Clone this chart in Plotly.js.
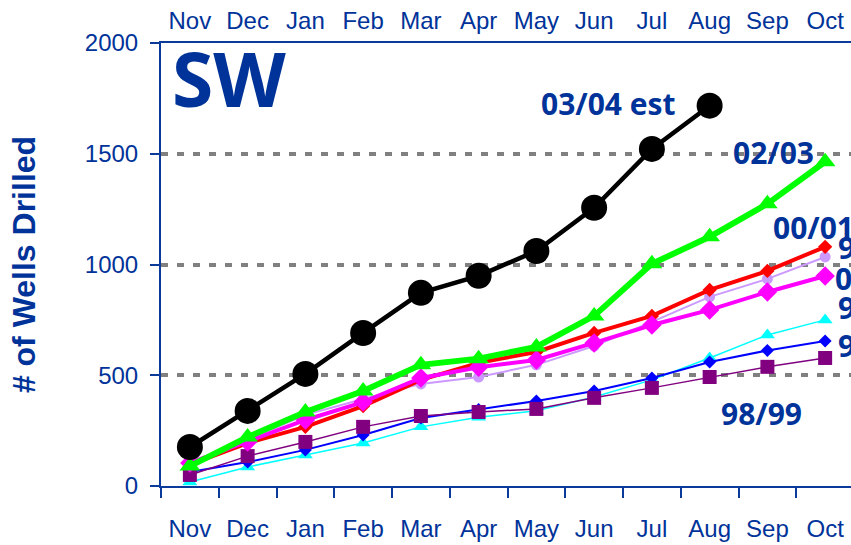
<!DOCTYPE html>
<html>
<head>
<meta charset="utf-8">
<script src="https://cdn.plot.ly/plotly-3.0.1.min.js"></script>
<style>
  html, body { margin: 0; padding: 0; background: #ffffff; overflow: hidden; }
  #chart { width: 854px; height: 545px; }
</style>
</head>
<body>
<div id="chart"></div>
<script>
// ---- data ----
const months = ['Nov','Dec','Jan','Feb','Mar','Apr','May','Jun','Jul','Aug','Sep','Oct'];
const est0304 = [176, 339, 506, 691, 872, 949, 1061, 1256, 1522, 1717];
const s0203 = [90, 221, 334, 429, 547, 575, 628, 768, 1003, 1125, 1274, 1464];
const s0001 = [97, 194, 267, 361, 479, 556, 605, 691, 768, 885, 971, 1080];
const s0102 = [104, 199, 298, 379, 488, 536, 569, 646, 727, 795, 876, 948];
const s9900 = [100, 208, 321, 393, 461, 492, 547, 632, 741, 854, 935, 1034];
const s9798 = [18, 86, 140, 194, 267, 310, 340, 402, 479, 578, 682, 750];
const s9697 = [63, 108, 163, 230, 307, 345, 384, 429, 488, 560, 612, 655];
const s9899 = [50, 135, 199, 267, 316, 334, 348, 398, 443, 492, 538, 578];
const yTicks = [0, 500, 1000, 1500, 2000];

const BLUE = '#0A3A9A';
const TXT = '#003399';

function tr(name, y, color, lw, sym, ms) {
  return {
    type: 'scatter', mode: 'lines+markers', name: name,
    x: months.slice(0, y.length), y: y,
    line: {color: color, width: lw},
    marker: {color: color, symbol: sym, size: ms, line: {width: 0}},
    showlegend: false, hoverinfo: 'skip', cliponaxis: false
  };
}

const data = [
  tr('99/00', s9900, '#CC99FF', 2, 'circle', 11),
  tr('97/98', s9798, '#00FFFF', 1.5, 'triangle-up', 13),
  tr('96/97', s9697, '#0000FF', 2, 'diamond', 10),
  tr('98/99', s9899, '#800080', 1.5, 'square', 14),
  tr('00/01', s0001, '#FF0000', 4, 'diamond', 11),
  tr('01/02', s0102, '#FF00FF', 4, 'diamond', 15),
  tr('02/03', s0203, '#00FF00', 6, 'triangle-up', 18),
  tr('03/04 est', est0304, '#000000', 4.5, 'circle', 26)
];

const L = 161, T = 43, W = 854, H = 545, B = 59;
const PW = W - L, PH = H - T - B;
function px(x) { return (x - L) / PW; }
function py(y) { return (H - B - y) / PH; }

function lab(text, x, y, anchor, size) {
  return {
    text: text, xref: 'paper', yref: 'paper', x: px(x), y: py(y),
    xanchor: anchor, yanchor: 'middle', showarrow: false,
    font: {family: 'Open Sans', size: size || 30, color: TXT, weight: 'bold'}
  };
}

const layout = {
  width: W, height: H,
  margin: {l: L, r: 0, t: T, b: B, pad: 0},
  paper_bgcolor: '#ffffff', plot_bgcolor: '#ffffff',
  showlegend: false,
  font: {family: 'Liberation Sans, Arial, sans-serif', color: TXT},
  xaxis: {
    type: 'category', categoryorder: 'array', categoryarray: months,
    range: [-0.5, 11.5], fixedrange: true,
    showline: true, linecolor: BLUE, linewidth: 2,
    ticks: 'outside', tickson: 'boundaries', ticklen: 10, tickwidth: 2, tickcolor: BLUE,
    showgrid: false, zeroline: false,
    tickfont: {size: 24, color: TXT}, ticklabelstandoff: 20
  },
  xaxis2: {
    overlaying: 'x', side: 'top', anchor: 'y',
    range: [-0.5, 11.5], tickmode: 'array',
    tickvals: months.map((m, i) => i), ticktext: months,
    showline: true, linecolor: BLUE, linewidth: 2,
    ticks: '', showgrid: false, zeroline: false,
    tickfont: {size: 24, color: TXT}, ticklabelstandoff: 2
  },
  yaxis: {
    range: [0, 2000], tickmode: 'array', tickvals: yTicks,
    showline: true, linecolor: BLUE, linewidth: 2,
    ticks: 'outside', ticklen: 9, tickwidth: 2, tickcolor: BLUE,
    showgrid: true, gridcolor: '#808080', gridwidth: 4, griddash: '7px,9px',
    zeroline: false,
    tickfont: {size: 24, color: TXT}, ticklabelstandoff: 7,
    title: {text: '# of Wells Drilled', standoff: 40,
            font: {family: 'Liberation Sans, Arial, sans-serif', size: 32, color: TXT, weight: 'bold'}}
  },
  annotations: [
    lab('SW', 170, 78, 'left', 75),
    lab('03/04 est', 608, 103, 'center'),
    lab('02/03', 773, 152, 'center'),
    lab('00/01', 771, 227, 'left'),
    lab('99/00', 836, 247, 'left'),
    lab('01/02', 833, 278, 'left'),
    lab('97/98', 836, 307, 'left'),
    lab('96/97', 836, 345, 'left'),
    lab('98/99', 761, 413, 'center')
  ]
};

// dummy invisible trace to activate the top axis
data.push({type: 'scatter', x: [0, 11], y: [null, null], xaxis: 'x2', yaxis: 'y',
           mode: 'markers', showlegend: false, hoverinfo: 'skip'});

Plotly.newPlot('chart', data, layout, {displayModeBar: false, staticPlot: true});
</script>
</body>
</html>
